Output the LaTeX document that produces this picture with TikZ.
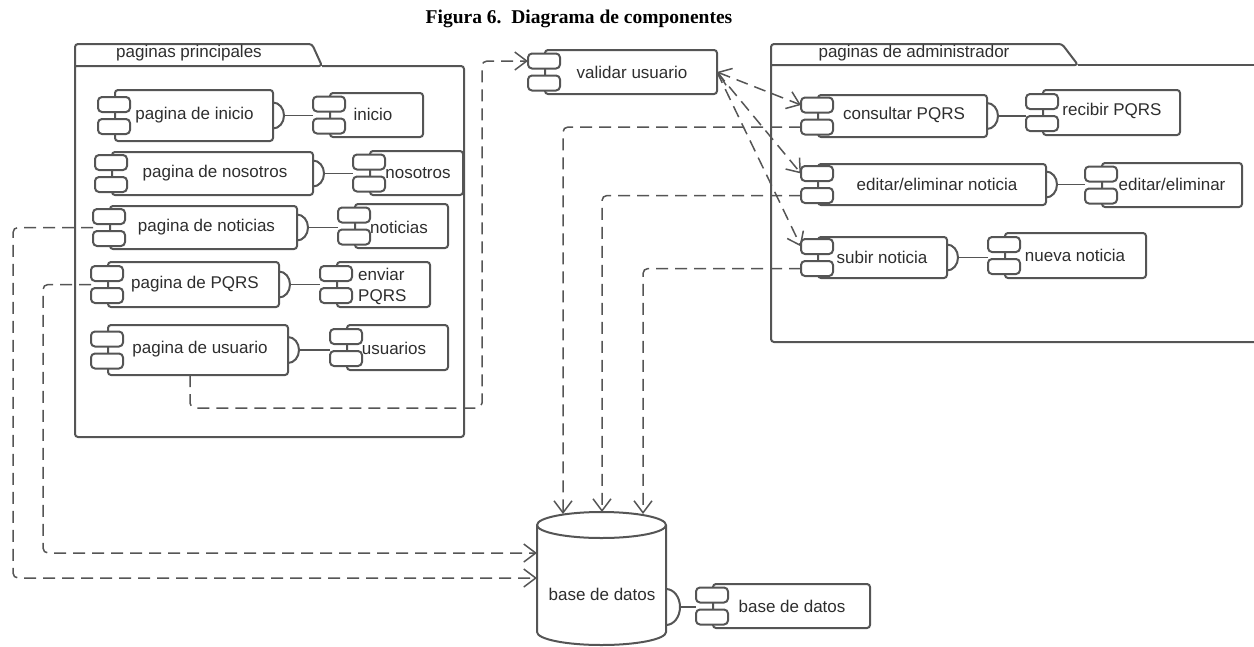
\documentclass[tikz,border=0pt]{standalone}
\usepackage{fontspec}
\setmainfont{Liberation Sans}
\newfontfamily\titlefont{Liberation Serif}
\usetikzlibrary{arrows.meta,calc}
\definecolor{lc}{HTML}{555555}
\definecolor{tc}{HTML}{2E2E2E}
\tikzset{
  mainbox/.style={draw=lc, fill=white, line width=2pt, rounded corners=3pt, inner sep=0pt, outer sep=0pt},
  smallbox/.style={draw=lc, fill=white, line width=2pt, rounded corners=4pt, minimum width=32pt, minimum height=15pt, inner sep=0pt, outer sep=0pt},
  lbl/.style={text=tc, font=\fontsize{17}{21}\selectfont, inner sep=0pt},
  pkg/.style={draw=lc, line width=2pt, rounded corners=3pt},
  socketline/.style={draw=lc, line width=2pt},
  asm/.style={draw=lc, line width=1.4pt},
  dep/.style={draw=lc, line width=1.5pt, dash pattern=on 12pt off 7pt, rounded corners=5pt, -{Straight Barb[length=12pt,width=18pt,line width=1.5pt]}},
}
\newcommand\comp[5]{%
  \node[mainbox, minimum width={(#4)-(#2)}, minimum height={(#5)-(#3)}] (#1) at ({((#2)+(#4))/2},{((#3)+(#5))/2}) {};
  \node[smallbox] (#1-a) at ({(#2)-1},{((#3)+(#5))/2-11}) {};
  \node[smallbox] (#1-b) at ({(#2)-1},{((#3)+(#5))/2+11}) {};
}
\newcommand\sockto[2]{%
  \draw[socketline] ([yshift=13pt]#1.east) arc[start angle=90, end angle=-90, x radius=11pt, y radius=13pt];
  \draw[asm] ([xshift=11pt]#1.east) -- (#1.east -| #2-a.west);
}
\begin{document}
\begin{tikzpicture}[x=1pt,y=-1pt]
\useasboundingbox (0,0) rectangle (1254,646);
\clip (0,0) rectangle (1254,646);

% title
\node[text=black, font=\titlefont\bfseries\fontsize{19.5}{22}\selectfont, inner sep=0pt] (title) at (579,19) {Figura 6.\ \ Diagrama de componentes};

% packages
\draw[pkg] (322,66) -- (464,66) -- (464,437) -- (75,437) -- (75,44) -- (312,44) -- (322,66) -- (75,66);
\node[lbl] (pk1) at (189,53) {paginas principales};
\draw[pkg] (1262,342) -- (771,342) -- (771,44) -- (1062,44) -- (1078,65) -- (771,65);
\draw[pkg] (1078,65) -- (1262,65);
\node[lbl] (pk2) at (914,53) {paginas de administrador};

% components
\comp{pinicio}{115}{90}{273}{141}
\comp{cinicio}{330}{93}{423}{137}
\comp{pnos}{112}{152}{313}{195}
\comp{cnos}{370}{151}{463}{195}
\comp{pnot}{110}{206}{297}{249}
\comp{cnot}{355}{204}{448}{248}
\comp{ppqrs}{108}{262}{279}{307}
\comp{cpqrs}{337}{262}{430}{307}
\comp{pusu}{108}{325}{288}{375}
\comp{cusu}{347}{325}{448}{370}
\comp{valid}{545}{50}{717}{94}
\comp{cons}{818}{95}{987}{137}
\comp{crec}{1043}{90}{1180}{135}
\comp{edit}{818}{164}{1046}{205}
\comp{cedit}{1102}{163}{1242}{207}
\comp{subir}{818}{237}{947}{278}
\comp{cnueva}{1005}{233}{1146}{278}
\comp{cbase}{713}{584}{870}{628}

\sockto{pinicio}{cinicio}
\sockto{pnos}{cnos}
\sockto{pnot}{cnot}
\sockto{ppqrs}{cpqrs}
\sockto{pusu}{cusu}
\sockto{cons}{crec}
\sockto{edit}{cedit}
\sockto{subir}{cnueva}

% labels
\node[lbl] (t1) at (194.5,115) {pagina de inicio};
\node[lbl] (t2) at (373,114) {inicio};
\node[lbl] (t3) at (215,173) {pagina de nosotros};
\node[lbl] (t4) at (418,173) {nosotros};
\node[lbl] (t5) at (206.5,227) {pagina de noticias};
\node[lbl] (t6) at (399,227) {noticias};
\node[lbl] (t7) at (195,284) {pagina de PQRS};
\node[lbl, anchor=west, align=left] (t8) at (358,286.5) {enviar\\PQRS};
\node[lbl] (t9) at (200,349) {pagina de usuario};
\node[lbl] (t10) at (394,348) {usuarios};
\node[lbl] (t11) at (632,72) {validar usuario};
\node[lbl] (t12) at (904,115) {consultar PQRS};
\node[lbl] (t13) at (1112,111) {recibir PQRS};
\node[lbl] (t14) at (937,184) {editar/eliminar noticia};
\node[lbl] (t15) at (1172,184) {editar/eliminar};
\node[lbl] (t16) at (882,257) {subir noticia};
\node[lbl] (t17) at (1075,255) {nueva noticia};
\node[lbl] (t19) at (792,606) {base de datos};

% database cylinder
\node[inner sep=0pt, outer sep=0pt, minimum width=129pt, minimum height=107pt] (db) at (601.5,578.5) {};
\draw[lc, line width=2pt, fill=white]
  (537,525) -- (537,632) arc[start angle=180, end angle=360, x radius=64.5pt, y radius=13pt]
  -- (666,525) arc[start angle=0, end angle=180, x radius=64.5pt, y radius=13pt] -- cycle;
\draw[lc, line width=2pt] (537,525) arc[start angle=180, end angle=360, x radius=64.5pt, y radius=13pt];
\node[lbl] (t18) at (602,594) {base de datos};
\coordinate (dbs) at (666,607);
\draw[socketline] ([yshift=18pt]dbs) arc[start angle=90, end angle=-90, x radius=14pt, y radius=18pt];
\draw[asm] ([xshift=14pt]dbs) -- (dbs -| cbase-a.west);

% database entry points
\coordinate (dbt1) at (563,514);
\coordinate (dbt2) at (602,512);
\coordinate (dbt3) at (643,514);

% dependencies
\draw[dep] (pnot-a.west |- pnot.west) -| (13,578) -- (db.west |- 0,578);
\draw[dep] (ppqrs-a.west |- ppqrs.west) -| (43,553) -- (db.west |- 0,553);
\draw[dep] ([xshift=-8pt]pusu.south) |- (482,408) |- (valid-a.west);
\draw[dep] (cons-b.west) -| (dbt1);
\draw[dep] (edit-b.west) -| (dbt2);
\draw[dep] (subir-b.west) -| (dbt3);
\draw[dep, {Straight Barb[length=12pt,width=18pt,line width=1.5pt]}-{Straight Barb[length=12pt,width=18pt,line width=1.5pt]}] (valid.east) -- (cons-a.west);
\draw[dep] (valid.east) -- (edit-a.west);
\draw[dep] (valid.east) -- (subir-a.west);
\end{tikzpicture}
\end{document}
